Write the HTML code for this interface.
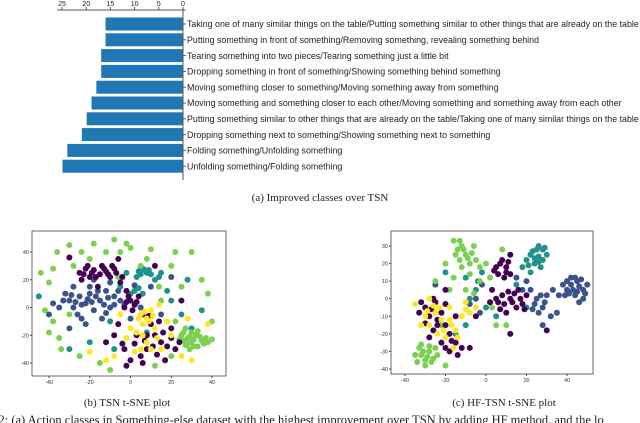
<!DOCTYPE html>
<html><head><meta charset="utf-8"><style>
html,body{margin:0;padding:0;background:#fff;width:640px;height:423px;overflow:hidden}
svg{display:block}
</style></head><body>
<svg id="fig" width="640" height="423" viewBox="0 0 640 423" xmlns="http://www.w3.org/2000/svg">
<g id="barg"></g>
<text x="320" y="201" text-anchor="middle" font-family="Liberation Serif, serif" font-size="11" fill="#222">(a) Improved classes over TSN</text>
<g id="plotb"></g>
<g id="plotc"></g>
<text x="127" y="406" text-anchor="middle" font-family="Liberation Serif, serif" font-size="11" fill="#222">(b) TSN t-SNE plot</text>
<text x="504" y="406" text-anchor="middle" font-family="Liberation Serif, serif" font-size="11" fill="#222">(c) HF-TSN t-SNE plot</text>
<text x="-14" y="424" font-family="Liberation Serif, serif" font-size="12.5" fill="#222">g. 2: (a) Action classes in Something-else dataset with the highest improvement over TSN by adding HF method, and the lo</text>
</svg>
<script>
const NS='http://www.w3.org/2000/svg';
const barLabels=["Taking one of many similar things on the table/Putting something similar to other things that are already on the table","Putting something in front of something/Removing something, revealing something behind","Tearing something into two pieces/Tearing something just a little bit","Dropping something in front of something/Showing something behind something","Moving something closer to something/Moving something away from something","Moving something and something closer to each other/Moving something and something away from each other","Putting something similar to other things that are already on the table/Taking one of many similar things on the table","Dropping something next to something/Showing something next to something","Folding something/Unfolding something","Unfolding something/Folding something"];
const barValues=[16.0,16.0,16.9,16.9,17.9,18.9,19.9,20.9,23.9,24.9];
const barTicks=[25,20,15,10,5,0];

const bPurple=[[-25,25],[-22,28],[-20,22],[-18,27],[-15,24],[-12,26],[-10,22],[-8,28],[-14,30],[-24,20],[-5,18],[-2,12],[0,5],[2,2],[4,8],[-3,0],[6,-5],[10,-12],[12,-20],[15,-25],[18,-28],[8,-30],[5,-35],[0,-38],[-3,-30],[20,-15],[22,-30],[-8,-20],[-12,-25],[14,-10],[25,5],[-30,36],[-6,35],[12,30],[-16,15],[3,-20],[17,-38],[-2,-42],[-23,24],[-19,25],[-17,22],[-13,28],[-11,24],[-7,25],[-21,30],[-9,30],[-4,22],[-1,8],[1,-2],[3,4],[-2,4],[8,-20],[11,-28],[16,-18],[7,-24],[2,-26],[13,-34],[-6,-12],[20,-22],[24,-25],[9,-6],[-4,-26],[6,-40]];
const bBlue=[[-30,5],[-28,0],[-25,8],[-22,3],[-20,10],[-18,-2],[-15,5],[-12,12],[-10,0],[-26,-5],[-32,10],[-35,0],[-20,15],[-8,8],[-5,5],[-14,-8],[-22,-12],[-28,15],[-38,3],[-18,20],[-10,18],[5,0],[10,15],[0,-8],[-40,-5],[15,-5],[-30,-15],[20,22],[-27,4],[-24,2],[-21,6],[-17,8],[-13,2],[-11,7],[-19,4],[-29,9],[-16,12],[-8,2],[-24,-8],[-33,5],[-12,-4],[-6,12],[-3,2],[2,16]];
const bTeal=[[4,26],[6,28],[8,25],[3,22],[10,24],[2,12],[6,10],[12,20],[15,25],[-5,15],[-2,25],[18,12],[28,20],[-20,-25],[8,-18],[-10,-10],[25,-5],[-30,-30],[30,-15],[-45,8],[5,24],[7,27],[9,27],[5,28],[4,14],[0,10],[14,22],[20,5],[-8,-30],[35,-2]];
const bLime=[[25,-20],[28,-22],[30,-25],[32,-20],[35,-24],[27,-27],[30,-18],[33,-28],[37,-22],[26,-24],[40,-23],[29,-30],[-44,25],[-40,18],[-36,40],[-30,45],[-18,46],[-8,49],[0,43],[10,42],[20,30],[-38,-10],[-42,-2],[-35,-22],[35,20],[38,10],[-25,-35],[30,40],[20,-35],[-15,-40],[5,30],[-5,40],[15,5],[-20,35],[40,-10],[-30,-5],[26,-18],[29,-21],[31,-23],[34,-21],[28,-26],[31,-28],[36,-26],[24,-23],[33,-17],[27,-15],[38,-25],[-38,28],[-28,30],[-12,40],[-2,46],[8,35],[25,15],[-34,-30],[-10,-45],[12,-42],[22,40],[-24,40],[-40,-18],[14,15],[-6,22],[22,-10]];
const bYellow=[[5,-5],[8,-8],[10,-2],[6,-12],[12,-15],[8,-25],[5,-30],[10,-30],[3,-18],[15,-30],[0,-15],[20,-20],[-12,-38],[-20,-32],[30,-38],[38,-12],[14,2],[-5,-5],[28,-8],[7,-3],[9,-10],[4,-8],[11,-6],[13,-22],[6,-20],[-2,-22],[2,-32],[18,-10],[-8,-35],[25,-35]];
const bXTicks=[-40,-20,0,20,40];
const bYTicks=[-40,-20,0,20,40];

const cPurple=[[-30,-5],[-28,-10],[-25,-2],[-22,-8],[-20,-15],[-18,-20],[-26,-18],[-32,-2],[-15,-25],[-18,-30],[-22,-25],[-12,-28],[-28,-22],[5,18],[8,22],[10,15],[12,25],[6,14],[10,18],[3,5],[8,2],[12,0],[15,-5],[18,-3],[10,-8],[6,-2],[20,2],[16,5],[2,-2],[-20,5],[-8,-28],[-15,-10],[12,-20],[30,-18],[-5,-10],[7,20],[9,12],[11,21],[4,16],[12,14],[5,0],[9,-3],[13,-2],[17,0],[14,3],[19,-6],[11,4],[7,-6],[-27,-6],[-24,-12],[-20,-3],[-30,-14],[-17,-24],[-14,-32],[-20,-28],[-24,-15],[-33,-8],[-26,0]];
const cBlue=[[40,5],[42,8],[45,10],[48,5],[44,2],[46,-2],[38,8],[42,12],[50,8],[36,2],[25,0],[28,-5],[22,5],[30,2],[26,-8],[32,-10],[20,10],[15,12],[-2,8],[-8,-3],[-3,-8],[35,-8],[48,0],[28,-15],[-25,8],[41,3],[43,5],[46,7],[47,11],[44,12],[40,10],[39,2],[49,3],[45,4],[24,-3],[27,2],[29,-2],[23,-6],[33,5],[18,5],[-5,0]];
const cTeal=[[22,25],[25,28],[28,22],[24,20],[26,30],[20,22],[30,25],[27,18],[22,15],[-10,12],[-5,5],[-2,15],[5,-10],[-10,-15],[-15,-20],[0,-5],[15,8],[-8,0],[20,-5],[-20,15],[23,27],[26,24],[24,23],[28,28],[21,19],[26,21],[29,29],[18,18],[-4,10]];
const cLime=[[-32,-32],[-30,-35],[-28,-30],[-34,-36],[-30,-38],[-26,-34],[-33,-28],[-25,-28],[-20,-38],[-12,30],[-10,25],[-8,20],[-14,28],[-5,22],[-12,18],[-6,30],[-16,33],[-3,10],[-20,20],[-18,5],[0,20],[-10,5],[3,-5],[5,-15],[-22,-15],[10,-15],[-25,10],[8,28],[-31,-30],[-29,-33],[-27,-36],[-32,-26],[-28,-27],[-24,-32],[-35,-32],[-13,33],[-11,28],[-9,23],[-7,26],[-13,22],[-15,25],[-3,18],[-8,14],[-16,12],[-6,3],[2,12]];
const cYellow=[[-35,-3],[-30,-10],[-28,-15],[-25,-8],[-22,-12],[-18,-5],[-20,-22],[-15,-18],[-24,-20],[-16,-28],[-12,-10],[-8,-8],[-5,-5],[-32,-15],[-10,-2],[-18,-12],[-28,0],[-26,-4],[-23,-5],[-29,-7],[-21,-18],[-14,-22],[-17,-15],[-10,-6]];
const cXTicks=[-40,-20,0,20,40];
const cYTicks=[-40,-30,-20,-10,0,10,20,30];

function mk(tag,attrs,parent){const e=document.createElementNS(NS,tag);for(const k in attrs)e.setAttribute(k,attrs[k]);parent.appendChild(e);return e;}

const bg=document.getElementById('barg');
const bx=v=>183-v*4.84;
const by=i=>24+i*15.8;
let ax=mk('line',{x1:bx(26),x2:bx(-0.5),y1:10,y2:10,stroke:'#555','stroke-width':1},bg);


barTicks.forEach(t=>{
  const tk=mk('line',{x1:bx(t),x2:bx(t),y1:7,y2:10,stroke:'#555'},bg);
  
  
  const tl=mk('text',{x:bx(t),y:6,'text-anchor':'middle','font-family':'Liberation Sans, sans-serif','font-size':7,fill:'#222'},bg);
  tl.textContent=t;
  
  
});
barValues.forEach((v,i)=>{
  const r=mk('rect',{x:bx(v),y:by(i)-6.5,width:bx(0)-bx(v),height:13,fill:'#1f77b4'},bg);
  
  
  const tk=mk('line',{x1:183,x2:186,y1:by(i),y2:by(i),stroke:'#555'},bg);
  
  
  const t=mk('text',{x:187,y:by(i)+3.2,'font-family':'Liberation Sans, sans-serif','font-size':8.85,fill:'#222'},bg);
  t.textContent=barLabels[i];
  
  
});
let yax=mk('line',{x1:183,x2:183,y1:10,y2:180,stroke:'#555','stroke-width':1},bg);



const COLORS={purple:'#440154',blue:'#3b528b',teal:'#21918c',lime:'#7ad151',yellow:'#fde725'};
function scatter(g,box,sx,sy,xt,yt,series){
  const fr=mk('rect',{x:box[0],y:box[1],width:box[2]-box[0],height:box[3]-box[1],fill:'none',stroke:'#444','stroke-width':0.8},g);
  
  
  xt.forEach(t=>{
    mk('line',{x1:sx(t),x2:sx(t),y1:box[3],y2:box[3]+2,stroke:'#444'},g);
    const l=mk('text',{x:sx(t),y:box[3]+8,'text-anchor':'middle','font-family':'Liberation Sans, sans-serif','font-size':5.5,fill:'#333'},g);
    l.textContent=t;
    
    
  });
  yt.forEach(t=>{
    mk('line',{x1:box[0]-2,x2:box[0],y1:sy(t),y2:sy(t),stroke:'#444'},g);
    const l=mk('text',{x:box[0]-3,y:sy(t)+2,'text-anchor':'end','font-family':'Liberation Sans, sans-serif','font-size':5.5,fill:'#333'},g);
    l.textContent=t;
    
    
  });
  series.forEach(([name,pts])=>{
    pts.forEach(p=>{
      const c=mk('circle',{cx:sx(p[0]),cy:sy(p[1]),r:3,fill:COLORS[name]},g);
      
      
    });
  });
}
scatter(document.getElementById('plotb'),[32,231,226,376],v=>49+(v+40)*163/80,v=>252+(40-v)*111/80,bXTicks,bYTicks,
  [['blue',bBlue],['teal',bTeal],['lime',bLime],['purple',bPurple],['yellow',bYellow]]);
scatter(document.getElementById('plotc'),[391,231,593,374],v=>405+(v+40)*162/80,v=>246+(30-v)*123/70,cXTicks,cYTicks,
  [['blue',cBlue],['teal',cTeal],['lime',cLime],['purple',cPurple],['yellow',cYellow]]);
</script>
</body></html>
